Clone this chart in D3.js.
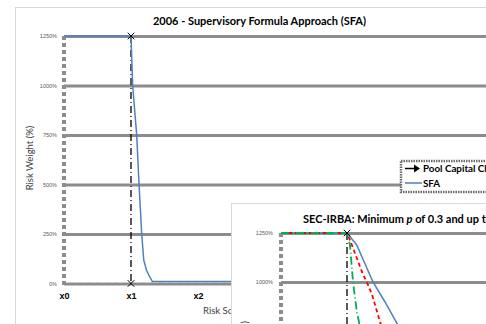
<!DOCTYPE html>
<html>
<head>
<meta charset="utf-8">
<script src="https://cdn.jsdelivr.net/npm/d3@7"></script>
<style>
  html, body { margin: 0; padding: 0; background: #fff; overflow: hidden; }
  svg { display: block; font-family: Lato, "Open Sans", "Liberation Sans", sans-serif; }
</style>
</head>
<body>
<script>
// ---- data ----
const xLabels = ["x0", "x1", "x2"];
const yTicks = [0, 250, 500, 750, 1000, 1250];

// SFA curve (risk score position, risk weight %)
const sfaScore  = [0, 1.0, 1.025, 1.085, 1.12, 1.16, 1.19, 1.23, 1.28, 1.32, 6];
const sfaWeight = [1250, 1250, 1000, 750, 500, 250, 119, 68, 33, 10, 10];

// Pool capital charge marker line
const poolScore  = [1, 1];
const poolWeight = [1250, 0];

// SEC-IRBA panel series
const irbaBlueScore  = [0, 1.0, 1.147, 1.394, 1.576, 1.753, 2.0];
const irbaBlueWeight = [1250, 1250, 1189, 1000, 898, 791, 660];
const irbaRedScore   = [0, 1.0, 1.09, 1.24, 1.30, 1.38, 1.5, 1.75];
const irbaRedWeight  = [1250, 1250, 1175, 1040, 1000, 935, 796, 570];
const irbaGreenScore  = [0, 1.0, 1.045, 1.091, 1.152, 1.182, 1.3];
const irbaGreenWeight = [1250, 1250, 1189, 1000, 842, 796, 505];

const W = 486, H = 324;
const gridGray = "#8c8c8c";

const svg = d3.select("body").append("svg")
  .attr("width", W).attr("height", H);

// ---------------- main chart ----------------
const main = svg.append("g");

main.append("rect")
  .attr("x", 15.5).attr("y", 7.5)
  .attr("width", 600).attr("height", 400)
  .attr("fill", "#fff").attr("stroke", "#d9d9d9");

main.append("text")
  .attr("x", 259.5).attr("y", 24.5)
  .attr("text-anchor", "middle")
  .attr("font-size", 11).attr("font-weight", "bold")
  .attr("fill", "#000")
  .text("2006 - Supervisory Formula Approach (SFA)");

const xMain = d3.scaleLinear().domain([0, 1]).range([64, 131]);
const yMain = d3.scaleLinear().domain([0, 1250]).range([283.5, 36]);

// horizontal gridlines with percent labels
const yAxisMain = main.append("g")
  .attr("transform", "translate(64,0)")
  .call(d3.axisLeft(yMain).tickValues(yTicks)
    .tickSize(-(W - 64 + 20)).tickPadding(7)
    .tickFormat(d => d + "%"));
yAxisMain.select(".domain").remove();
yAxisMain.selectAll(".tick line")
  .attr("stroke", gridGray).attr("stroke-width", 3);
yAxisMain.selectAll(".tick text")
  .attr("font-size", 5.5).attr("fill", "#595959")
  .attr("font-family", "'Liberation Sans', sans-serif");

// baseline overlay and dashed value axis
main.append("line")
  .attr("x1", 64).attr("x2", W + 10)
  .attr("y1", yMain(0) - 1).attr("y2", yMain(0) - 1)
  .attr("stroke", "#d0d0d0").attr("stroke-width", 1)
  .attr("stroke-dasharray", "5,4");
main.append("line")
  .attr("x1", 64).attr("x2", 64)
  .attr("y1", yMain(1250)).attr("y2", yMain(0) + 1.5)
  .attr("stroke", gridGray).attr("stroke-width", 4)
  .attr("stroke-dasharray", "4,3");

// category labels
const xAxisMain = main.append("g")
  .attr("transform", `translate(0,${yMain(0)})`)
  .call(d3.axisBottom(xMain).tickValues(d3.range(xLabels.length))
    .tickSize(0).tickPadding(9)
    .tickFormat(i => xLabels[i]));
xAxisMain.select(".domain").remove();
xAxisMain.selectAll(".tick text")
  .attr("font-size", 9).attr("font-weight", "bold").attr("fill", "#000");

// axis titles
main.append("text")
  .attr("transform", "translate(33,158) rotate(-90)")
  .attr("text-anchor", "middle")
  .attr("font-size", 9.5).attr("fill", "#404040")
  .text("Risk Weight (%)");
main.append("text")
  .attr("x", 203).attr("y", 314)
  .attr("font-size", 9.5).attr("fill", "#404040")
  .text("Risk Score");

const lineMain = d3.line().x(d => xMain(d[0])).y(d => yMain(d[1]));

// pool capital charge: dash-dot drop line with x markers
main.append("path")
  .attr("d", lineMain(d3.zip(poolScore, poolWeight)))
  .attr("fill", "none").attr("stroke", "#000").attr("stroke-width", 1.3)
  .attr("stroke-dasharray", "7,3,1,3");

// SFA curve
main.append("path")
  .attr("d", lineMain(d3.zip(sfaScore, sfaWeight)))
  .attr("fill", "none").attr("stroke", "#4f81bd").attr("stroke-width", 1.5);

const cross = d3.symbol().type(d3.symbolTimes).size(30);
main.selectAll(".poolMark")
  .data(d3.zip(poolScore, poolWeight))
  .join("path")
  .attr("transform", d => `translate(${xMain(d[0])},${yMain(d[1])})`)
  .attr("d", cross)
  .attr("fill", "none").attr("stroke", "#000").attr("stroke-width", 1);

// legend
const leg = main.append("g");
leg.append("rect")
  .attr("x", 401).attr("y", 161)
  .attr("width", 120).attr("height", 31)
  .attr("fill", "#fff").attr("stroke", "#6b6b6b").attr("stroke-width", 2.5)
  .attr("stroke-dasharray", "1.5,1");
leg.append("line")
  .attr("x1", 405).attr("x2", 416).attr("y1", 168.5).attr("y2", 168.5)
  .attr("stroke", "#000").attr("stroke-width", 1.5);
leg.append("path")
  .attr("d", "M414,164.5L420,168.5L414,172.5Z")
  .attr("fill", "#000");
leg.append("text")
  .attr("x", 423).attr("y", 172)
  .attr("font-size", 9.8).attr("font-weight", "bold").attr("fill", "#000")
  .text("Pool Capital Charge");
leg.append("line")
  .attr("x1", 405).attr("x2", 422).attr("y1", 183).attr("y2", 183)
  .attr("stroke", "#4f81bd").attr("stroke-width", 1.5);
leg.append("text")
  .attr("x", 423).attr("y", 186.5)
  .attr("font-size", 9.8).attr("font-weight", "bold").attr("fill", "#000")
  .text("SFA");

// ---------------- SEC-IRBA panel ----------------
const inset = svg.append("g");
inset.append("rect")
  .attr("x", 231.5).attr("y", 203.5)
  .attr("width", 400).attr("height", 300)
  .attr("fill", "#fff").attr("stroke", "#d9d9d9");

const insetTitle = inset.append("text")
  .attr("x", 303).attr("y", 223)
  .attr("font-size", 11).attr("font-weight", "bold").attr("fill", "#000");
insetTitle.append("tspan").text("SEC-IRBA: Minimum ");
insetTitle.append("tspan").attr("font-style", "italic").text("p");
insetTitle.append("tspan").text(" of 0.3 and up to 1.5");

const xIn = d3.scaleLinear().domain([0, 1]).range([281, 347]);
const yIn = d3.scaleLinear().domain([0, 1250]).range([478, 233]);

const yAxisIn = inset.append("g")
  .attr("transform", "translate(281,0)")
  .call(d3.axisLeft(yIn).tickValues(yTicks)
    .tickSize(-(W - 281 + 20)).tickPadding(8)
    .tickFormat(d => d + "%"));
yAxisIn.select(".domain").remove();
yAxisIn.selectAll(".tick line")
  .attr("stroke", gridGray).attr("stroke-width", 3);
yAxisIn.selectAll(".tick text")
  .attr("font-size", 5.5).attr("fill", "#595959")
  .attr("font-family", "'Liberation Sans', sans-serif");
inset.append("line")
  .attr("x1", 281).attr("x2", 281)
  .attr("y1", yIn(1250)).attr("y2", yIn(0))
  .attr("stroke", gridGray).attr("stroke-width", 4)
  .attr("stroke-dasharray", "4,3");

inset.append("text")
  .attr("transform", "translate(248,321) rotate(-90)")
  .attr("text-anchor", "end")
  .attr("font-size", 9.5).attr("fill", "#404040")
  .text("Risk Weight (%)");

const lineIn = d3.line().x(d => xIn(d[0])).y(d => yIn(d[1]));

inset.append("path")
  .attr("d", lineIn(d3.zip(poolScore, poolWeight)))
  .attr("fill", "none").attr("stroke", "#000").attr("stroke-width", 1.3)
  .attr("stroke-dasharray", "7,3,1,3");

inset.append("path")
  .attr("d", lineIn(d3.zip(irbaBlueScore, irbaBlueWeight)))
  .attr("fill", "none").attr("stroke", "#4f81bd").attr("stroke-width", 1.5);
inset.append("path")
  .attr("d", lineIn(d3.zip(irbaRedScore, irbaRedWeight)))
  .attr("fill", "none").attr("stroke", "#ff0000").attr("stroke-width", 1.8)
  .attr("stroke-dasharray", "4,3");
inset.append("path")
  .attr("d", lineIn(d3.zip(irbaGreenScore, irbaGreenWeight)))
  .attr("fill", "none").attr("stroke", "#00b050").attr("stroke-width", 1.8)
  .attr("stroke-dasharray", "8,3,1,3");

inset.append("path")
  .attr("transform", `translate(${xIn(poolScore[0])},${yIn(poolWeight[0])})`)
  .attr("d", cross)
  .attr("fill", "none").attr("stroke", "#000").attr("stroke-width", 1);
</script>
</body>
</html>
